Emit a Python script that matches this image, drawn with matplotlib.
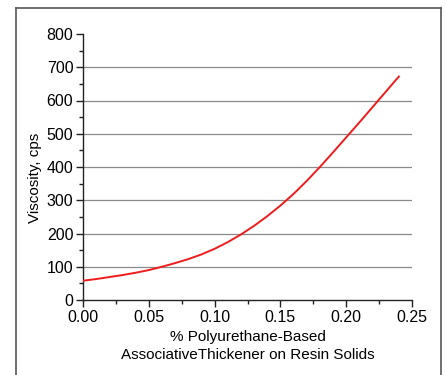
import matplotlib
matplotlib.use("Agg")
import matplotlib.pyplot as plt
from matplotlib.lines import Line2D
from matplotlib.ticker import MultipleLocator

plt.rcParams['font.family'] = ['Liberation Sans', 'DejaVu Sans']

# Thickener level (% on resin solids) and resulting viscosity (cps)
thickener = [0.00, 0.01, 0.02, 0.03, 0.04, 0.05, 0.06, 0.07, 0.08, 0.09,
             0.10, 0.11, 0.12, 0.13, 0.14, 0.15, 0.16, 0.17, 0.18, 0.19,
             0.20, 0.21, 0.22, 0.23, 0.24]
viscosity = [58, 63, 69, 75, 82, 90, 100, 111, 123, 137,
             154, 174, 197, 223, 252, 284, 319, 358, 400, 444,
             489, 534, 580, 626, 672]

x_ticks = [0.00, 0.05, 0.10, 0.15, 0.20, 0.25]
x_tick_labels = ["0.00", "0.05", "0.10", "0.15", "0.20", "0.25"]
y_ticks = [0, 100, 200, 300, 400, 500, 600, 700, 800]
grid_levels = [100, 200, 300, 400, 500, 600, 700]

fig = plt.figure(figsize=(4.46, 3.75), dpi=100)

# Outer frame (open at the bottom)
W, H = 446.0, 375.0
frame_kw = dict(color="#555555", linewidth=1.2, transform=fig.transFigure)
fig.add_artist(Line2D([16 / W, 16 / W], [0, 1 - 8 / H], **frame_kw))
fig.add_artist(Line2D([16 / W, 441 / W], [1 - 8 / H, 1 - 8 / H], **frame_kw))
fig.add_artist(Line2D([441 / W, 441 / W], [0, 1 - 8 / H], **frame_kw))

ax = fig.add_axes([83 / W, 1 - 300 / H, (412 - 83) / W, (300 - 34) / H])

for lvl in grid_levels:
    ax.axhline(lvl, color="#8a8a8a", linewidth=0.9, zorder=1)

ax.plot(thickener, viscosity, color="#ee1c1c", linewidth=1.4, zorder=3)

ax.set_xlim(0, 0.25)
ax.set_ylim(0, 800)
ax.set_xticks(x_ticks)
ax.set_xticklabels(x_tick_labels)
ax.set_yticks(y_ticks)
ax.xaxis.set_minor_locator(MultipleLocator(0.025))
ax.yaxis.set_minor_locator(MultipleLocator(50))

for side in ("top", "right"):
    ax.spines[side].set_visible(False)
for side in ("left", "bottom"):
    ax.spines[side].set_linewidth(1.0)
    ax.spines[side].set_color("#222222")

ax.tick_params(axis="both", which="major", direction="out", length=5,
               width=1.0, labelsize=11.5, color="#222222", pad=2)
ax.tick_params(axis="both", which="minor", direction="out", length=3,
               width=1.0, color="#222222")

ax.set_xlabel("% Polyurethane-Based\nAssociativeThickener on Resin Solids",
              fontsize=11, linespacing=1.3, labelpad=4)
ax.set_ylabel("Viscosity, cps", fontsize=11)
ax.yaxis.set_label_coords(-0.125, 0.46)

fig.savefig("out.png", dpi=100)
